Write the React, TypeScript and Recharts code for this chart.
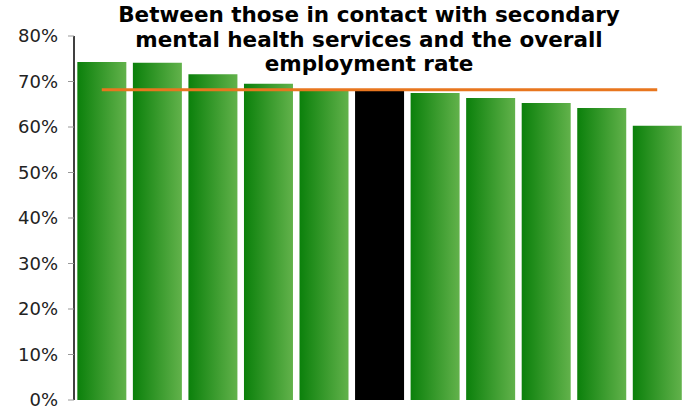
import { ComposedChart, Bar, Line, Cell, XAxis, YAxis } from 'recharts'

const regions = ['A', 'B', 'C', 'D', 'E', 'F', 'G', 'H', 'I', 'J', 'K']
const gapValues = [0.743, 0.741, 0.716, 0.695, 0.679, 0.679, 0.675, 0.664, 0.653, 0.642, 0.603]
const overallRate = [0.682, 0.682, 0.682, 0.682, 0.682, 0.682, 0.682, 0.682, 0.682, 0.682, 0.682]
const highlightIndex = 5
const yTicks = [0, 0.1, 0.2, 0.3, 0.4, 0.5, 0.6, 0.7, 0.8]
const titleLines = [
  'Between those in contact with secondary',
  'mental health services and the overall',
  'employment rate',
]

const data = regions.map((name, i) => ({
  name,
  value: gapValues[i],
  overall: overallRate[i],
}))

export default function App() {
  return (
    <div style={{ position: 'absolute', left: 0, top: 0, width: 691, height: 409, background: '#fff' }}>
      <ComposedChart
        width={691}
        height={409}
        data={data}
        margin={{ top: 36, right: 6, bottom: 9, left: 0 }}
        barCategoryGap="6%"
      >
        <defs>
          <linearGradient id="greenBar" x1="0" y1="0" x2="1" y2="0">
            <stop offset="0%" stopColor="#0b800b" />
            <stop offset="100%" stopColor="#62b24b" />
          </linearGradient>
        </defs>
        <XAxis
          dataKey="name"
          tick={false}
          tickLine={false}
          height={0}
          axisLine={{ stroke: '#000', strokeWidth: 1.5 }}
        />
        <YAxis
          domain={[0, 0.8]}
          ticks={yTicks}
          width={74}
          tickFormatter={(v) => `${Math.round(v * 100)}%`}
          tick={{ fill: '#222', fontSize: 18, fontFamily: 'DejaVu Sans' }}
          tickLine={{ stroke: '#999' }}
          tickSize={6}
          tickMargin={10}
          axisLine={{ stroke: '#000', strokeWidth: 1.5 }}
          interval={0}
        />
        <Bar dataKey="value" isAnimationActive={false}>
          {data.map((_, i) => (
            <Cell key={i} fill={i === highlightIndex ? '#000' : 'url(#greenBar)'} />
          ))}
        </Bar>
        <Line
          type="linear"
          dataKey="overall"
          stroke="#e8761e"
          strokeWidth={3}
          dot={false}
          activeDot={false}
          isAnimationActive={false}
        />
      </ComposedChart>
      <div
        style={{
          position: 'absolute',
          left: 69,
          top: 3,
          width: 600,
          textAlign: 'center',
          fontFamily: 'DejaVu Sans',
          fontWeight: 'bold',
          fontSize: 21.5,
          lineHeight: '24.5px',
          color: '#000',
          pointerEvents: 'none',
        }}
      >
        {titleLines.map((t) => (
          <div key={t}>{t}</div>
        ))}
      </div>
    </div>
  )
}
